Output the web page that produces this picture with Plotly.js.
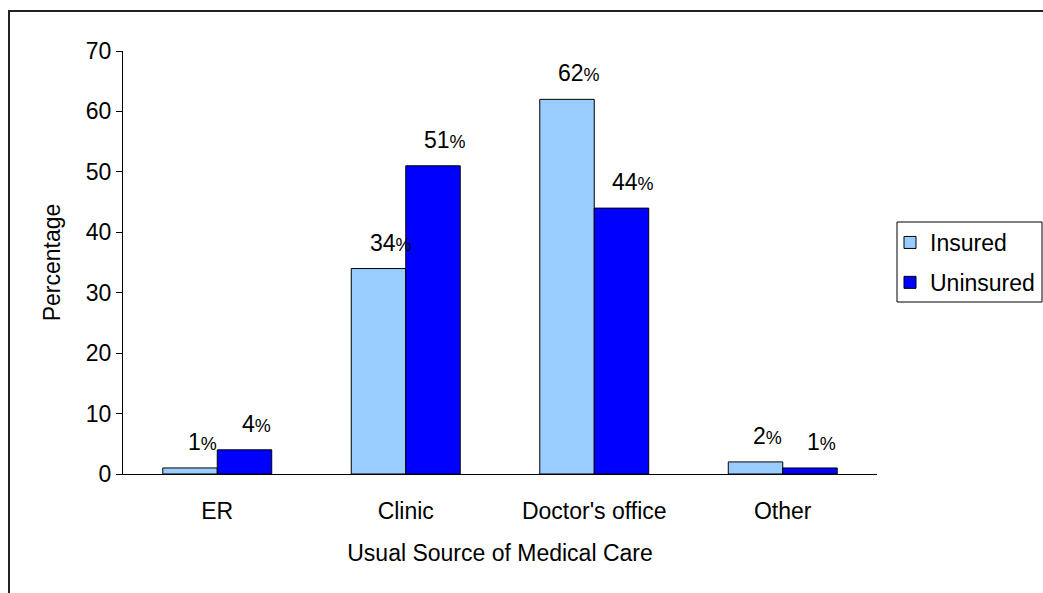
<!DOCTYPE html>
<html>
<head>
<meta charset="utf-8">
<script src="https://cdn.plot.ly/plotly-3.0.1.min.js"></script>
<style>
  html, body { margin: 0; padding: 0; background: #fff; }
  #chart { width: 1043px; height: 593px; }
</style>
</head>
<body>
<div id="chart"></div>
<script>
var categories = ["ER", "Clinic", "Doctor's office", "Other"];
var insured = [1, 34, 62, 2];
var uninsured = [4, 51, 44, 1];
var seriesNames = ["Insured", "Uninsured"];
var yTicks = [0, 10, 20, 30, 40, 50, 60, 70];

var FONT = "Arial, 'Liberation Sans', sans-serif";
var W = 1043, H = 593;
var ML = 123, MR = 166, MT = 51, MB = 119;
var PW = W - ML - MR, PH = H - MT - MB;
var BARGAP = 0.422;
var barW = (1 - BARGAP) / 2;

function px2x(p) { return (p - ML) / PW; }
function px2y(p) { return (H - MB - p) / PH; }

var traces = [
  {
    type: "bar", name: seriesNames[0], x: categories, y: insured,
    marker: { color: "#99CCFF", line: { color: "#000", width: 1 } },
    legendgroup: "a", hoverinfo: "x+y"
  },
  {
    type: "bar", name: seriesNames[1], x: categories, y: uninsured,
    marker: { color: "#0000FF", line: { color: "#000", width: 1 } },
    legendgroup: "b", hoverinfo: "x+y"
  }
];

var annotations = [];
[insured, uninsured].forEach(function (vals, s) {
  vals.forEach(function (v, i) {
    var xc = i + (s === 0 ? -barW / 2 : barW / 2);
    annotations.push({
      x: xc, y: v, xref: "x", yref: "y",
      text: v + "<span style='font-size:18px'>%</span>",
      showarrow: false, xanchor: "center", yanchor: "middle",
      xshift: 12, yshift: 26,
      font: { family: FONT, size: 23, color: "#000" }
    });
  });
});

var layout = {
  width: W, height: H,
  margin: { l: ML, r: MR, t: MT, b: MB, autoexpand: false },
  paper_bgcolor: "#fff", plot_bgcolor: "#fff",
  font: { family: FONT, size: 23, color: "#000" },
  barmode: "group", bargap: BARGAP, bargroupgap: 0,
  showlegend: true,
  legend: {
    x: px2x(890), y: px2y(221), xanchor: "left", yanchor: "top",
    borderwidth: 0, bgcolor: "rgba(0,0,0,0)",
    font: { family: FONT, size: 23, color: "#000" },
    tracegroupgap: 7, traceorder: "grouped"
  },
  xaxis: {
    type: "category", showline: true, linecolor: "#000", linewidth: 1,
    ticks: "", showgrid: false, zeroline: false,
    tickfont: { family: FONT, size: 23, color: "#000" },
    ticklabelstandoff: 16,
    title: { text: "Usual Source of Medical Care", font: { family: FONT, size: 23, color: "#000" }, standoff: 22 }
  },
  yaxis: {
    range: [0, 70], tickvals: yTicks, showline: true, linecolor: "#000", linewidth: 1,
    ticks: "outside", ticklen: 6, tickcolor: "#000", showgrid: false, zeroline: false,
    tickfont: { family: FONT, size: 23, color: "#000" },
    title: { text: "Percentage", font: { family: FONT, size: 23, color: "#000" }, standoff: 18 }
  },
  annotations: annotations,
  shapes: [
    {
      type: "rect", xref: "paper", yref: "paper",
      x0: px2x(9), x1: px2x(1060), y0: px2y(620), y1: px2y(11),
      line: { color: "#222", width: 2 }, fillcolor: "rgba(0,0,0,0)", layer: "below"
    },
    {
      type: "rect", xref: "paper", yref: "paper",
      x0: px2x(897), x1: px2x(1042), y0: px2y(302), y1: px2y(222),
      line: { color: "#000", width: 1 }, fillcolor: "#fff", layer: "below"
    }
  ]
};

Plotly.newPlot("chart", traces, layout, { displayModeBar: false, staticPlot: true });
</script>
</body>
</html>
